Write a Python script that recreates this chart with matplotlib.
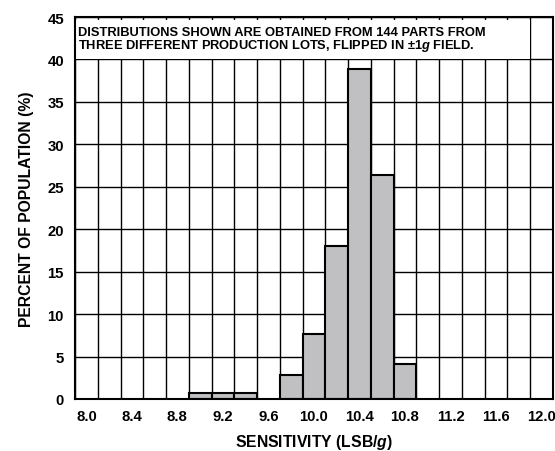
import matplotlib
matplotlib.use("Agg")
import matplotlib.pyplot as plt
import numpy as np
from matplotlib.patches import Rectangle

# bin centres (LSB/g) and share of the 144 parts in each bin (%)
bin_centers = [9.0, 9.2, 9.4, 9.8, 10.0, 10.2, 10.4, 10.6, 10.8]
percent = [0.69, 0.69, 0.69, 2.78, 7.64, 18.06, 38.89, 26.39, 4.17]
bin_width = 0.2

x_ticks = [8.0, 8.4, 8.8, 9.2, 9.6, 10.0, 10.4, 10.8, 11.2, 11.6, 12.0]
y_ticks = [0, 5, 10, 15, 20, 25, 30, 35, 40, 45]

note = ("DISTRIBUTIONS SHOWN ARE OBTAINED FROM 144 PARTS FROM\n"
        "THREE DIFFERENT PRODUCTION LOTS, FLIPPED IN \u00b11$\\mathit{g}$ FIELD.")

plt.rcParams['font.family'] = ['Liberation Sans', 'DejaVu Sans']
plt.rcParams['font.weight'] = 'bold'
plt.rcParams['mathtext.fontset'] = 'custom'
plt.rcParams['mathtext.rm'] = 'Liberation Sans:bold'
plt.rcParams['mathtext.it'] = 'Liberation Sans:italic:bold'
plt.rcParams['mathtext.bf'] = 'Liberation Sans:bold'

W, H = 555, 452
fig = plt.figure(figsize=(W / 100, H / 100), dpi=100)
ax = fig.add_axes([75 / W, 52 / H, 478 / W, 382 / H])

xmin, xmax = 7.9, 12.1
ax.set_xlim(xmin, xmax)
ax.set_ylim(0, 45)

# grid: vertical at bin edges, horizontal every 5 %
edges = np.arange(xmin, xmax + 0.01, bin_width)
for e in edges:
    ax.axvline(e, color='black', lw=1.0, zorder=1)
for y in y_ticks:
    ax.axhline(y, color='black', lw=1.0, zorder=1)

ax.bar(bin_centers, percent, width=bin_width, color='#c0c0c2',
       edgecolor='black', linewidth=1.5, zorder=3)

# white note box covering the top grid rows
ax.add_patch(Rectangle((xmin, 40), 4.0, 44.6 - 40, facecolor='white',
                       edgecolor='none', zorder=2))
ax.text(7.93, 43.9, note, fontsize=9.3, fontweight='bold', va='top',
        ha='left', linespacing=0.92, zorder=4)

ax.set_xticks(x_ticks)
ax.set_xticklabels(['%.1f' % v for v in x_ticks])
ax.set_yticks(y_ticks)
ax.tick_params(axis='x', length=0, labelsize=10.7, pad=7)
ax.tick_params(axis='y', length=0, labelsize=10.7, pad=8)
for lab in ax.get_xticklabels() + ax.get_yticklabels():
    lab.set_fontweight('bold')

for s in ax.spines.values():
    s.set_linewidth(1.5)
    s.set_zorder(5)

fig.text(314 / W, 1 - 447.5 / H, 'SENSITIVITY (LSB/$\\mathit{g}$)',
         fontsize=11.3, fontweight='bold', ha='center', va='baseline')
fig.text(27 / W, 1 - 209 / H, 'PERCENT OF POPULATION (%)', rotation=90,
         fontsize=11.3, fontweight='bold', ha='center', va='center')

fig.savefig('out.png', dpi=100)
